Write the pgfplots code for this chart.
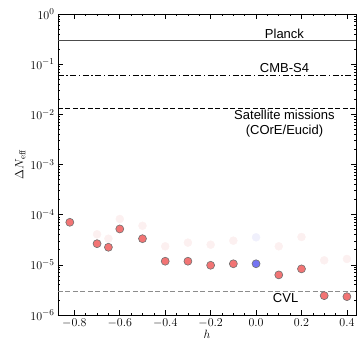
\documentclass[border=0pt]{standalone}
\usepackage{pgfplots}
\pgfplotsset{compat=1.18}
\usepackage{fontspec}
\newfontfamily\labelfont{Liberation Sans}

\definecolor{ptred}{HTML}{F27474}
\definecolor{ptblue}{HTML}{7474F2}
\definecolor{fadered}{HTML}{FCF0F0}
\definecolor{fadeblue}{HTML}{F0F0FC}
\definecolor{edgegray}{HTML}{707070}

\begin{document}
\begin{tikzpicture}
\begin{axis}[
  scale only axis,
  width=298pt, height=301pt,
  ymode=log,
  xmin=-0.872, xmax=0.44,
  ymin=1e-6, ymax=1,
  xtick={-0.8,-0.6,-0.4,-0.2,0,0.2,0.4},
  xticklabels={$-0.8$,$-0.6$,$-0.4$,$-0.2$,$0.0$,$0.2$,$0.4$},
  minor x tick num=3,
  ytick={1e-6,1e-5,1e-4,1e-3,1e-2,1e-1,1},
  tick align=inside,
  ticklabel style={font=\fontsize{12.5}{14}\selectfont},
  major tick length=5pt,
  minor tick length=2.5pt,
  tick style={black, line width=0.6pt},
  axis line style={line width=0.8pt},
  xlabel={$h$},
  ylabel={$\Delta N_{\rm eff}$},
  xlabel style={font=\fontsize{12.5}{14}\selectfont, yshift=4pt},
  ylabel style={font=\fontsize{12.5}{14}\selectfont, yshift=-2pt},
  clip=false,
]
% experimental sensitivities
\addplot[black!70, line width=1.1pt] coordinates {(-0.872,0.294) (0.44,0.294)};
\addplot[black, line width=0.8pt, dash pattern=on 6pt off 2.5pt on 1.5pt off 2.5pt] coordinates {(-0.872,0.06) (0.44,0.06)};
\addplot[black, line width=0.8pt, dash pattern=on 5pt off 2.5pt] coordinates {(-0.872,0.0132) (0.44,0.0132)};
\addplot[black!45, line width=0.8pt, dash pattern=on 5pt off 2.5pt] coordinates {(-0.872,3e-6) (0.44,3e-6)};

\node[font=\labelfont\fontsize{13}{14}\selectfont, anchor=south, inner sep=2pt] at (axis cs:0.125,0.294) {Planck};
\node[font=\labelfont\fontsize{13}{14}\selectfont, anchor=south, inner sep=2pt] at (axis cs:0.125,0.06) {CMB-S4};
\node[font=\labelfont\fontsize{13}{14.5}\selectfont, anchor=north, align=center, inner sep=2pt] at (axis cs:0.125,0.0132) {Satellite missions\\(COrE/Eucid)};
\node[font=\labelfont\fontsize{13}{14}\selectfont, anchor=north, inner sep=2pt] at (axis cs:0.13,3e-6) {CVL};

% faint companion points
\addplot[only marks, mark=*, mark size=4pt, mark options={fill=fadered, draw=fadered}] coordinates {
  (-0.7,4.06e-5) (-0.65,3.32e-5) (-0.6,8.2e-5) (-0.5,6.0e-5) (-0.4,2.34e-5)
  (-0.3,2.77e-5) (-0.2,2.52e-5) (-0.1,3.03e-5)
  (0.1,2.34e-5) (0.2,3.59e-5) (0.3,1.23e-5) (0.4,1.31e-5)};
\addplot[only marks, mark=*, mark size=4pt, mark options={fill=fadeblue, draw=fadeblue}] coordinates {
  (0.0,3.54e-5)};

% main points
\addplot[only marks, mark=*, mark size=4pt, mark options={fill=ptred, draw=edgegray, line width=0.6pt}] coordinates {
  (-0.82,7.05e-5) (-0.7,2.64e-5) (-0.65,2.24e-5) (-0.6,5.19e-5) (-0.5,3.32e-5)
  (-0.4,1.18e-5) (-0.3,1.18e-5) (-0.2,9.8e-6) (-0.1,1.05e-5)
  (0.1,6.3e-6) (0.2,8.3e-6) (0.3,2.43e-6) (0.4,2.32e-6)};
\addplot[only marks, mark=*, mark size=4pt, mark options={fill=ptblue, draw=edgegray, line width=0.6pt}] coordinates {
  (0.0,1.05e-5)};
\end{axis}
\pgfresetboundingbox
\path (current axis.south west) ++(-58pt,-32pt) rectangle ++(360pt,347pt);
\end{tikzpicture}
\end{document}
